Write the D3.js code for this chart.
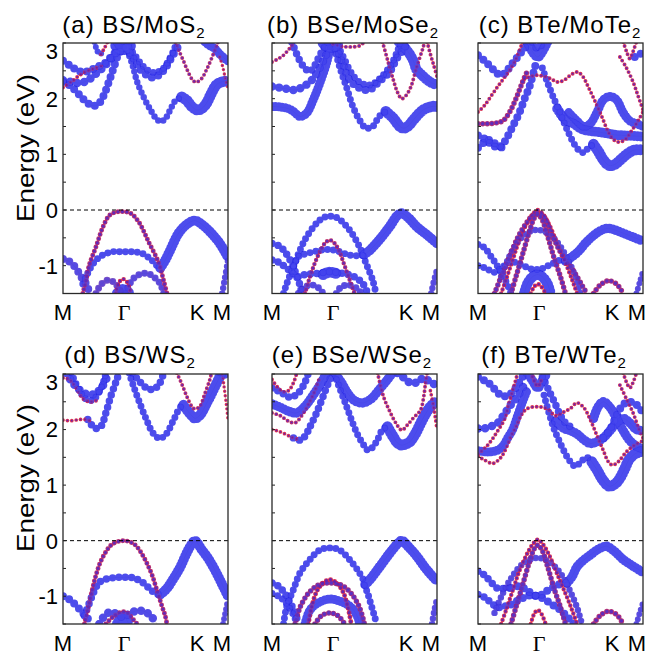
<!DOCTYPE html>
<html><head><meta charset="utf-8">
<script src="https://cdn.jsdelivr.net/npm/d3@7"></script>
<style>body{margin:0;background:#fff}svg{display:block}</style>
</head><body>
<svg id="chart" width="659" height="661"></svg>
<script>
// ---------------- DATA ----------------
const kPoints = [0, 0.364, 0.795, 1];          // M, Γ, K, M along the path (normalised)
const kLabels = ["M", "Γ", "K", "M"];
const yTickLabels = [3, 2, 1, 0, -1];
const yMinorTicks = [-1.5, -1, -0.5, 0, 0.5, 1, 1.5, 2, 2.5, 3];
const titles = [["(a) BS/MoS", "2"], ["(b) BSe/MoSe", "2"], ["(c) BTe/MoTe", "2"],
                ["(d) BS/WS", "2"], ["(e) BSe/WSe", "2"], ["(f) BTe/WTe", "2"]];
// each band: [weight (0..1), B-chalcogen fraction (0 = TMD blue, 1 = red), [[k, E], ...]]
const bandsA = [
 [0.4,0.75,[[0.12,-1.5],[0.14,-1.25],[0.16,-0.98],[0.2,-0.66],[0.24,-0.32],[0.28,-0.1],[0.32,-0.04],[0.364,-0.03],[0.41,-0.06],[0.46,-0.22],[0.52,-0.58],[0.58,-0.95],[0.61,-1.27],[0.63,-1.5]]],
 [0.6,0,[[0.12,-1.33],[0.14,-1.2],[0.17,-1.02],[0.2,-0.9],[0.24,-0.81],[0.3,-0.75],[0.36,-0.75],[0.42,-0.75],[0.48,-0.78],[0.53,-0.88],[0.57,-1.0],[0.59,-1.04]]],
 [0.9,0,[[0.59,-1.04],[0.62,-0.9],[0.65,-0.72],[0.7,-0.42],[0.75,-0.26],[0.8,-0.19],[0.85,-0.28],[0.9,-0.42],[0.95,-0.6],[1.0,-0.85]]],
 [0.7,0.1,[[0,-0.88],[0.04,-0.93],[0.08,-1.05],[0.11,-1.2],[0.135,-1.3],[0.15,-1.4],[0.165,-1.5]]],
 [0.55,0.1,[[0.965,-1.5],[0.98,-1.25],[0.995,-1.0],[1.0,-0.9]]],
 [0.6,0.25,[[0.2,-1.5],[0.23,-1.34],[0.27,-1.26],[0.31,-1.3],[0.34,-1.42],[0.36,-1.5]]],
 [0.35,0.9,[[0.32,-1.5],[0.34,-1.3],[0.364,-1.24],[0.39,-1.3],[0.41,-1.5]]],
 [0.6,0.15,[[0.38,-1.5],[0.4,-1.35],[0.43,-1.22],[0.47,-1.15],[0.51,-1.14],[0.55,-1.2],[0.59,-1.33],[0.61,-1.5]]],
 [1.0,0,[[0.33,-1.5],[0.35,-1.44],[0.364,-1.43],[0.38,-1.44],[0.4,-1.5]]],
 [0.7,0,[[0,2.3],[0.04,2.24],[0.08,2.13],[0.12,2.0],[0.16,1.9],[0.19,1.87],[0.22,1.92],[0.25,2.08],[0.28,2.32],[0.31,2.58],[0.34,2.82],[0.364,2.88]]],
 [0.75,0,[[0,2.33],[0.05,2.3],[0.1,2.28],[0.15,2.33],[0.2,2.45],[0.25,2.58],[0.3,2.75],[0.34,2.88]]],
 [0.3,0.95,[[0,2.2],[0.05,2.3],[0.1,2.42],[0.15,2.5],[0.2,2.55],[0.25,2.6]]],
 [0.7,0,[[0,2.68],[0.04,2.6],[0.08,2.52],[0.12,2.48],[0.16,2.5],[0.2,2.56],[0.25,2.63],[0.3,2.78],[0.34,2.9]]],
 [0.5,0,[[0.19,3.02],[0.205,2.88],[0.22,2.8],[0.235,2.82]]],
 [0.3,0.95,[[0.23,2.8],[0.25,2.9],[0.27,3.02]]],
 [1.0,0,[[0.32,2.95],[0.34,2.9],[0.364,2.88],[0.39,2.9],[0.41,2.95]]],
 [0.9,0,[[0.33,3.02],[0.35,2.94],[0.364,2.93],[0.38,2.94],[0.4,3.02]]],
 [0.55,0,[[0.39,2.86],[0.42,2.62],[0.45,2.3],[0.49,2.02],[0.53,1.8],[0.56,1.66],[0.59,1.59],[0.62,1.64],[0.65,1.8],[0.68,1.96],[0.72,2.03]]],
 [1.0,0,[[0.72,2.03],[0.75,1.97],[0.78,1.86],[0.81,1.8],[0.84,1.82],[0.87,1.92],[0.9,2.1],[0.93,2.25],[0.96,2.3],[1.0,2.32]]],
 [0.7,0,[[0.38,2.92],[0.42,2.76],[0.46,2.56],[0.5,2.44],[0.54,2.38],[0.58,2.42],[0.62,2.55],[0.66,2.75],[0.7,2.95],[0.71,3.02]]],
 [0.6,0,[[0.4,2.92],[0.44,2.76],[0.48,2.6],[0.52,2.5],[0.56,2.47],[0.6,2.52],[0.64,2.68],[0.67,2.86],[0.69,3.02]]],
 [0.3,0.75,[[0.68,3.02],[0.7,2.88],[0.73,2.68],[0.76,2.47],[0.79,2.32],[0.81,2.3],[0.84,2.36],[0.87,2.52],[0.9,2.72],[0.93,2.94],[0.94,3.02]]],
 [0.8,0,[[0.86,3.02],[0.89,2.95],[0.92,2.9],[0.95,2.8],[0.98,2.72],[1.0,2.68]]],
 [0.25,0.95,[[0.95,2.75],[0.97,2.55],[0.985,2.35],[1.0,2.2]]]
];
const bandsB = [
 [0.6,0,[[0.07,-1.5],[0.09,-1.32],[0.13,-1.02],[0.17,-0.72],[0.21,-0.48],[0.27,-0.24],[0.31,-0.14],[0.35,-0.11],[0.4,-0.15],[0.47,-0.36],[0.53,-0.66],[0.57,-0.96],[0.61,-1.26],[0.63,-1.5]]],
 [0.6,0,[[0.13,-1.02],[0.16,-0.84],[0.19,-0.8],[0.27,-0.74],[0.33,-0.71],[0.39,-0.73],[0.47,-0.81],[0.53,-0.82],[0.56,-0.8]]],
 [0.9,0,[[0.56,-0.8],[0.594,-0.72],[0.655,-0.52],[0.715,-0.29],[0.76,-0.1],[0.786,-0.06],[0.83,-0.15],[0.877,-0.3],[0.94,-0.45],[1.0,-0.6]]],
 [0.65,0,[[0,-0.6],[0.04,-0.64],[0.07,-0.72],[0.1,-0.85],[0.13,-1.02],[0.15,-1.2],[0.17,-1.35],[0.18,-1.5]]],
 [0.65,0,[[0,-0.9],[0.04,-0.94],[0.08,-1.02],[0.12,-1.12],[0.15,-1.2],[0.2,-1.16],[0.27,-1.14],[0.35,-1.11],[0.43,-1.14],[0.5,-1.2],[0.55,-1.32],[0.58,-1.5]]],
 [1.0,0,[[0.31,-1.16],[0.34,-1.12],[0.364,-1.12],[0.39,-1.14]]],
 [0.35,0.75,[[0.2,-1.5],[0.23,-1.2],[0.26,-0.95],[0.29,-0.75],[0.32,-0.6],[0.35,-0.54],[0.38,-0.6],[0.41,-0.76],[0.44,-1.0],[0.47,-1.25],[0.5,-1.5]]],
 [0.6,0.1,[[0.16,-1.5],[0.2,-1.38],[0.25,-1.35],[0.29,-1.42],[0.31,-1.5]]],
 [0.6,0.1,[[0.39,-1.5],[0.42,-1.38],[0.47,-1.35],[0.52,-1.42],[0.54,-1.5]]],
 [0.55,0.1,[[0.965,-1.5],[0.98,-1.3],[1.0,-1.08]]],
 [0.3,0.8,[[0,2.66],[0.04,2.72],[0.07,2.78],[0.1,2.88],[0.12,2.95],[0.13,3.02]]],
 [0.65,0,[[0.12,3.02],[0.15,2.8],[0.19,2.58],[0.23,2.49],[0.26,2.6],[0.29,2.78],[0.32,2.93],[0.34,3.02]]],
 [0.75,0,[[0,2.22],[0.04,2.2],[0.08,2.18],[0.12,2.16],[0.15,2.16],[0.19,2.22],[0.23,2.3],[0.27,2.45],[0.3,2.62],[0.33,2.8],[0.35,2.93]]],
 [0.8,0,[[0,1.86],[0.05,1.85],[0.1,1.82],[0.13,1.77],[0.17,1.68],[0.21,1.74],[0.25,1.98],[0.29,2.28],[0.33,2.63],[0.35,2.87]]],
 [1.0,0,[[0.31,3.0],[0.33,2.94],[0.364,2.92],[0.39,2.94],[0.41,3.0]]],
 [0.6,0,[[0.38,2.9],[0.41,2.57],[0.45,2.22],[0.49,1.86],[0.53,1.62],[0.57,1.47],[0.61,1.5],[0.65,1.68],[0.69,1.77]]],
 [1.0,0,[[0.69,1.77],[0.735,1.65],[0.775,1.5],[0.8,1.47],[0.83,1.52],[0.857,1.62],[0.917,1.8],[0.97,1.86],[1.0,1.86]]],
 [0.7,0,[[0.39,2.92],[0.43,2.62],[0.47,2.34],[0.53,2.19],[0.59,2.16],[0.65,2.31],[0.715,2.49],[0.755,2.72],[0.8,2.9],[0.82,3.02]]],
 [0.6,0,[[0.4,2.95],[0.44,2.7],[0.49,2.42],[0.54,2.28],[0.6,2.25],[0.66,2.38],[0.72,2.6],[0.76,2.85],[0.78,3.02]]],
 [0.3,0.8,[[0.67,3.02],[0.7,2.7],[0.735,2.34],[0.76,2.12],[0.786,2.0],[0.81,2.05],[0.84,2.2],[0.877,2.57],[0.917,2.93],[0.925,3.02]]],
 [0.95,0,[[0.77,3.02],[0.8,2.93],[0.83,2.82],[0.857,2.68],[0.877,2.52],[0.91,2.42],[0.94,2.34],[0.97,2.28],[1.0,2.25]]],
 [0.3,0.85,[[0.94,3.02],[0.96,2.8],[0.98,2.6],[1.0,2.4]]],
 [0.3,0.8,[[0.37,2.98],[0.42,2.94],[0.47,2.93],[0.53,2.95],[0.56,3.02]]]
];
const bandsC = [
 [0.35,0.9,[[0.14,-1.5],[0.17,-1.25],[0.21,-0.9],[0.25,-0.55],[0.3,-0.22],[0.335,-0.06],[0.362,0.0],[0.39,-0.06],[0.43,-0.25],[0.48,-0.6],[0.53,-0.95],[0.57,-1.25],[0.6,-1.5]]],
 [0.45,0.65,[[0.2,-1.5],[0.23,-1.2],[0.27,-0.8],[0.31,-0.4],[0.34,-0.15],[0.362,-0.08],[0.385,-0.15],[0.42,-0.45],[0.46,-0.85],[0.5,-1.2],[0.53,-1.5]]],
 [0.45,0.6,[[0.1,-1.5],[0.14,-1.2],[0.19,-0.85],[0.24,-0.5],[0.29,-0.25],[0.33,-0.1],[0.362,-0.05],[0.4,-0.12],[0.46,-0.52],[0.52,-0.86],[0.58,-1.1],[0.63,-1.35],[0.66,-1.5]]],
 [0.55,0.1,[[0.14,-1.2],[0.18,-0.9],[0.23,-0.62],[0.28,-0.45],[0.33,-0.37],[0.362,-0.36],[0.4,-0.38],[0.45,-0.48],[0.5,-0.66],[0.55,-0.92],[0.59,-1.2],[0.62,-1.5]]],
 [0.85,0,[[0.53,-0.92],[0.57,-0.84],[0.61,-0.74],[0.65,-0.6],[0.7,-0.46],[0.75,-0.36],[0.79,-0.33],[0.84,-0.37],[0.9,-0.44],[0.95,-0.5],[1.0,-0.56]]],
 [0.6,0,[[0.0,-1.0],[0.05,-1.05],[0.1,-1.12],[0.15,-1.02],[0.2,-0.93],[0.26,-0.98],[0.32,-1.06],[0.38,-1.06],[0.44,-0.98],[0.5,-0.9],[0.53,-0.92]]],
 [0.6,0,[[0,-0.62],[0.04,-0.68],[0.08,-0.84],[0.12,-1.02],[0.15,-1.18],[0.18,-1.35],[0.2,-1.5]]],
 [0.95,0,[[0.28,-1.5],[0.3,-1.32],[0.33,-1.2],[0.362,-1.16],[0.39,-1.2],[0.42,-1.32],[0.44,-1.5]]],
 [0.35,0.95,[[0.32,-1.5],[0.34,-1.38],[0.362,-1.33],[0.385,-1.38],[0.41,-1.5]]],
 [0.45,0.7,[[0.7,-1.5],[0.74,-1.35],[0.79,-1.27],[0.84,-1.33],[0.88,-1.5]]],
 [0.5,0.1,[[0.96,-1.5],[0.98,-1.3],[1.0,-1.1]]],
 [0.7,0,[[0,1.12],[0.04,1.22],[0.07,1.26],[0.1,1.2],[0.13,1.14],[0.16,1.22],[0.19,1.38],[0.22,1.56],[0.25,1.74],[0.28,1.98],[0.31,2.2],[0.33,2.4],[0.35,2.62]]],
 [0.7,0,[[0,1.34],[0.04,1.28],[0.08,1.18],[0.12,1.12],[0.15,1.13]]],
 [0.6,0,[[0.39,2.55],[0.42,2.3],[0.46,2.0],[0.49,1.8],[0.52,1.58],[0.55,1.38],[0.58,1.2],[0.61,1.08],[0.64,1.03],[0.67,1.12],[0.7,1.18]]],
 [1.0,0,[[0.7,1.18],[0.73,1.05],[0.76,0.9],[0.795,0.8],[0.83,0.82],[0.87,0.92],[0.91,1.02],[0.95,1.08],[1.0,1.08]]],
 [0.9,0,[[0.3,3.02],[0.33,2.85],[0.362,2.75],[0.39,2.85],[0.42,3.02]]],
 [0.7,0,[[0.33,3.02],[0.35,2.93],[0.362,2.9],[0.375,2.93],[0.39,3.02]]],
 [0.7,0,[[0,2.78],[0.04,2.68],[0.08,2.56],[0.11,2.47],[0.13,2.43],[0.16,2.45],[0.2,2.6],[0.24,2.75],[0.28,2.9],[0.31,3.0]]],
 [0.3,0.9,[[0.28,2.35],[0.32,2.4],[0.362,2.42],[0.4,2.4],[0.44,2.36],[0.48,2.3],[0.52,2.33],[0.56,2.42],[0.6,2.48],[0.63,2.42],[0.67,2.2],[0.71,1.95],[0.75,1.68],[0.79,1.4],[0.82,1.27],[0.85,1.22],[0.89,1.26],[0.93,1.42],[0.97,1.6],[1.0,1.76]]],
 [0.3,0.9,[[0,1.76],[0.04,1.88],[0.08,2.05],[0.12,2.22],[0.16,2.38],[0.2,2.55],[0.24,2.78],[0.27,3.02]]],
 [0.45,0.7,[[0,1.55],[0.05,1.55],[0.1,1.56],[0.15,1.6],[0.19,1.75],[0.23,2.0],[0.27,2.3],[0.3,2.5]]],
 [0.8,0,[[0.55,1.75],[0.6,1.6],[0.64,1.5],[0.68,1.55],[0.72,1.75],[0.76,1.98],[0.8,2.04],[0.84,1.98],[0.88,1.75],[0.92,1.6],[0.96,1.55],[1.0,1.5]]],
 [0.9,0,[[0.48,1.82],[0.53,1.62],[0.58,1.55],[0.63,1.45],[0.68,1.42],[0.73,1.4],[0.78,1.38],[0.83,1.35],[0.88,1.34],[0.94,1.33],[1.0,1.32]]],
 [0.3,0.85,[[0.88,3.02],[0.9,2.85],[0.92,2.72],[0.94,2.85],[0.96,3.02]]],
 [0.3,0.85,[[0.86,2.75],[0.9,2.55],[0.94,2.3],[0.97,2.05],[1.0,1.8]]],
 [0.7,0,[[0.95,2.75],[0.98,2.8],[1.0,2.82]]]
];
const bandsD = [
 [0.4,0.75,[[0.13,-1.5],[0.14,-1.36],[0.155,-1.18],[0.18,-0.85],[0.2,-0.62],[0.225,-0.4],[0.26,-0.2],[0.3,-0.06],[0.366,0.0],[0.43,-0.06],[0.47,-0.2],[0.507,-0.4],[0.54,-0.62],[0.568,-0.88],[0.6,-1.18],[0.62,-1.36],[0.63,-1.5]]],
 [0.65,0,[[0.13,-1.35],[0.16,-1.12],[0.19,-0.9],[0.224,-0.74],[0.3,-0.67],[0.36,-0.66],[0.426,-0.67],[0.487,-0.76],[0.53,-0.88],[0.57,-0.96],[0.59,-0.97]]],
 [0.9,0,[[0.59,-0.97],[0.63,-0.86],[0.67,-0.68],[0.71,-0.48],[0.75,-0.22],[0.78,-0.06],[0.8,0.0],[0.84,-0.16],[0.88,-0.32],[0.93,-0.58],[0.97,-0.82],[1.0,-1.0]]],
 [0.7,0,[[0,-1.0],[0.04,-1.06],[0.08,-1.17],[0.12,-1.3],[0.15,-1.4],[0.17,-1.5]]],
 [0.5,0.1,[[0.97,-1.5],[0.985,-1.28],[1.0,-1.06]]],
 [0.75,0.05,[[0.22,-1.5],[0.25,-1.36],[0.29,-1.28],[0.33,-1.33],[0.366,-1.38],[0.4,-1.32],[0.45,-1.26],[0.5,-1.28],[0.54,-1.38],[0.57,-1.5]]],
 [1.0,0,[[0.33,-1.5],[0.35,-1.4],[0.366,-1.36],[0.38,-1.4],[0.4,-1.5]]],
 [0.4,0.7,[[0.26,-1.5],[0.3,-1.38],[0.34,-1.3],[0.366,-1.28],[0.39,-1.3],[0.42,-1.4],[0.45,-1.5]]],
 [0.28,0.95,[[0,2.17],[0.05,2.16],[0.1,2.18],[0.14,2.18],[0.17,2.15]]],
 [0.65,0,[[0.15,2.18],[0.18,2.06],[0.2,2.02],[0.23,2.06],[0.26,2.3],[0.29,2.6],[0.32,2.85],[0.34,3.02]]],
 [0.6,0,[[0.4,3.02],[0.43,2.76],[0.466,2.47],[0.507,2.17],[0.547,1.93],[0.588,1.84],[0.628,1.93],[0.67,2.17],[0.71,2.4],[0.73,2.44]]],
 [0.95,0,[[0.73,2.44],[0.76,2.32],[0.79,2.22],[0.8,2.2],[0.83,2.26],[0.87,2.47],[0.91,2.71],[0.95,2.95],[0.96,3.02]]],
 [0.75,0,[[0.02,3.02],[0.05,2.88],[0.09,2.74],[0.14,2.64],[0.19,2.64],[0.23,2.74],[0.26,2.9],[0.28,3.02]]],
 [0.3,0.85,[[0,2.93],[0.04,2.9],[0.08,2.75],[0.12,2.56],[0.16,2.5],[0.2,2.52]]],
 [0.6,0,[[0.05,3.02],[0.1,2.7],[0.14,2.55],[0.18,2.53],[0.22,2.68],[0.25,2.9],[0.26,3.02]]],
 [0.65,0,[[0.42,3.02],[0.46,2.88],[0.5,2.76],[0.54,2.72],[0.58,2.8],[0.61,3.02]]],
 [0.3,0.8,[[0.69,3.02],[0.72,2.82],[0.75,2.6],[0.78,2.42],[0.8,2.37],[0.83,2.42],[0.86,2.65],[0.89,2.9],[0.9,3.02]]],
 [0.25,0.95,[[0.965,3.0],[0.975,2.8],[0.99,2.45],[1.0,2.18]]],
 [0.6,0,[[0.95,3.02],[0.98,2.98],[1.0,2.98]]]
];
const bandsE = [
 [0.6,0,[[0.07,-1.5],[0.09,-1.18],[0.13,-0.88],[0.17,-0.58],[0.23,-0.34],[0.29,-0.17],[0.35,-0.13],[0.41,-0.17],[0.47,-0.34],[0.53,-0.58],[0.565,-0.77]]],
 [0.9,0,[[0.565,-0.79],[0.594,-0.7],[0.655,-0.46],[0.715,-0.22],[0.76,-0.06],[0.786,0.0],[0.83,-0.12],[0.877,-0.28],[0.937,-0.52],[1.0,-0.73]]],
 [0.6,0,[[0.56,-0.8],[0.58,-0.95],[0.6,-1.15],[0.62,-1.35],[0.635,-1.5]]],
 [0.65,0,[[0,-0.76],[0.04,-0.82],[0.08,-0.96],[0.11,-1.12],[0.14,-1.3],[0.16,-1.5]]],
 [0.6,0,[[0,-0.95],[0.04,-1.0],[0.08,-1.1],[0.12,-1.28],[0.14,-1.4],[0.15,-1.5]]],
 [0.8,0,[[0.2,-1.5],[0.23,-1.25],[0.28,-1.12],[0.35,-1.05],[0.42,-1.1],[0.48,-1.2],[0.52,-1.38],[0.53,-1.5]]],
 [0.4,0.9,[[0.22,-1.5],[0.24,-1.2],[0.27,-0.92],[0.31,-0.76],[0.35,-0.7],[0.39,-0.76],[0.43,-0.92],[0.46,-1.2],[0.48,-1.5]]],
 [0.45,0.6,[[0.14,-1.5],[0.17,-1.2],[0.22,-0.95],[0.28,-0.8],[0.35,-0.76],[0.42,-0.8],[0.48,-0.95],[0.53,-1.2],[0.56,-1.5]]],
 [0.45,0.6,[[0.26,-1.5],[0.3,-1.35],[0.35,-1.3],[0.4,-1.35],[0.44,-1.5]]],
 [0.55,0.1,[[0.97,-1.5],[0.985,-1.25],[1.0,-1.06]]],
 [0.28,0.95,[[0,2.0],[0.04,1.97],[0.08,1.92],[0.12,1.86],[0.15,1.83]]],
 [0.65,0,[[0.13,1.85],[0.17,1.81],[0.2,1.88],[0.23,2.05],[0.27,2.3],[0.31,2.6],[0.35,2.9],[0.37,3.02]]],
 [0.6,0,[[0.39,2.9],[0.43,2.59],[0.46,2.35],[0.49,2.11],[0.52,1.9],[0.55,1.75],[0.58,1.63],[0.61,1.68],[0.64,1.82],[0.67,2.0],[0.7,2.05]]],
 [1.0,0,[[0.7,2.05],[0.735,1.87],[0.76,1.76],[0.786,1.72],[0.81,1.74],[0.836,1.78],[0.87,1.93],[0.9,2.11],[0.93,2.28],[0.96,2.41],[1.0,2.52]]],
 [0.85,0,[[0,2.46],[0.05,2.4],[0.1,2.33],[0.15,2.3],[0.2,2.42],[0.25,2.62],[0.3,2.85],[0.33,3.02]]],
 [0.3,0.8,[[0,2.3],[0.05,2.25],[0.1,2.15],[0.14,2.12],[0.18,2.25],[0.22,2.45],[0.26,2.7],[0.29,2.95]]],
 [0.3,0.9,[[0,2.9],[0.04,2.74],[0.07,2.68],[0.1,2.7],[0.13,2.84],[0.15,3.02]]],
 [0.65,0,[[0,2.75],[0.06,2.66],[0.11,2.58],[0.16,2.66],[0.2,2.85],[0.22,3.02]]],
 [0.85,0,[[0.38,3.02],[0.42,2.85],[0.46,2.65],[0.5,2.52],[0.55,2.48],[0.6,2.55],[0.65,2.72],[0.7,2.9],[0.73,3.02]]],
 [0.3,0.85,[[0.64,3.02],[0.675,2.6],[0.71,2.35],[0.75,2.12],[0.786,1.99],[0.82,2.08],[0.86,2.22],[0.9,2.35],[0.92,2.6],[0.93,2.83],[0.94,3.02]]],
 [0.75,0,[[0.76,3.02],[0.8,2.93],[0.84,2.84],[0.88,2.85],[0.92,2.93],[0.96,2.85],[1.0,2.8]]],
 [0.28,0.95,[[0.96,2.7],[0.98,2.4],[1.0,2.0]]]
];
const bandsF = [
 [0.35,0.9,[[0.14,-1.5],[0.17,-1.25],[0.21,-0.9],[0.25,-0.55],[0.3,-0.22],[0.335,-0.05],[0.362,0.02],[0.39,-0.05],[0.43,-0.25],[0.48,-0.6],[0.53,-0.95],[0.57,-1.25],[0.6,-1.5]]],
 [0.45,0.6,[[0.2,-1.5],[0.23,-1.2],[0.27,-0.8],[0.31,-0.4],[0.34,-0.15],[0.362,-0.08],[0.385,-0.15],[0.42,-0.45],[0.46,-0.85],[0.5,-1.2],[0.53,-1.5]]],
 [0.55,0.1,[[0.1,-1.3],[0.15,-0.95],[0.2,-0.68],[0.25,-0.48],[0.3,-0.36],[0.362,-0.31],[0.42,-0.36],[0.47,-0.48],[0.52,-0.68],[0.56,-0.92],[0.6,-1.2],[0.63,-1.5]]],
 [0.85,0,[[0.54,-0.76],[0.57,-0.65],[0.6,-0.47],[0.64,-0.35],[0.68,-0.26],[0.72,-0.17],[0.76,-0.11],[0.78,-0.1],[0.83,-0.2],[0.88,-0.34],[0.94,-0.46],[1.0,-0.57]]],
 [0.7,0,[[0.2,-0.85],[0.25,-0.82],[0.3,-0.9],[0.362,-1.0],[0.42,-0.9],[0.48,-0.8],[0.54,-0.76]]],
 [0.7,0,[[0.2,-1.15],[0.26,-1.05],[0.32,-0.98],[0.362,-1.0],[0.4,-1.05],[0.45,-1.15],[0.5,-1.25],[0.55,-1.4],[0.58,-1.5]]],
 [0.65,0,[[0,-0.55],[0.04,-0.62],[0.08,-0.75],[0.12,-0.86],[0.16,-0.86],[0.2,-0.85]]],
 [0.65,0,[[0,-0.97],[0.04,-1.02],[0.08,-1.12],[0.12,-1.2],[0.16,-1.18],[0.2,-1.15]]],
 [0.35,0.95,[[0.32,-1.5],[0.34,-1.32],[0.362,-1.25],[0.385,-1.32],[0.41,-1.5]]],
 [0.45,0.7,[[0.7,-1.5],[0.74,-1.35],[0.79,-1.27],[0.84,-1.33],[0.88,-1.5]]],
 [0.5,0.1,[[0.96,-1.5],[0.98,-1.3],[1.0,-1.12]]],
 [0.8,0,[[0,1.62],[0.04,1.6],[0.08,1.6],[0.12,1.63],[0.15,1.7],[0.18,1.85],[0.21,2.0],[0.24,2.25],[0.27,2.5],[0.3,2.72]]],
 [0.6,0,[[0.4,2.62],[0.43,2.3],[0.46,2.02],[0.49,1.81],[0.52,1.62],[0.55,1.46],[0.59,1.34],[0.63,1.44],[0.66,1.5],[0.69,1.42]]],
 [1.0,0,[[0.69,1.42],[0.72,1.28],[0.755,1.1],[0.795,0.98],[0.83,1.02],[0.855,1.1],[0.89,1.3],[0.915,1.46],[0.95,1.56],[1.0,1.62]]],
 [0.3,0.9,[[0,1.52],[0.04,1.45],[0.09,1.39],[0.13,1.47],[0.16,1.6],[0.2,1.88],[0.23,2.05],[0.26,2.25],[0.3,2.38],[0.362,2.41],[0.42,2.37],[0.47,2.25],[0.51,2.3],[0.56,2.38],[0.6,2.48],[0.64,2.4],[0.68,2.18],[0.72,1.9],[0.76,1.62],[0.79,1.42],[0.815,1.36],[0.85,1.42],[0.9,1.6],[0.95,1.72],[1.0,1.8]]],
 [0.85,0,[[0.3,3.02],[0.33,2.88],[0.362,2.75],[0.39,2.88],[0.42,3.02]]],
 [0.35,0.9,[[0.33,2.95],[0.35,2.82],[0.362,2.78],[0.375,2.82],[0.39,2.95]]],
 [0.7,0,[[0,2.95],[0.04,2.88],[0.08,2.8],[0.12,2.66],[0.16,2.6],[0.2,2.65],[0.24,2.8],[0.27,2.95],[0.29,3.02]]],
 [0.75,0,[[0,2.02],[0.04,2.02],[0.08,2.06],[0.12,2.12],[0.16,2.28],[0.2,2.45],[0.24,2.6],[0.28,2.8]]],
 [0.3,0.9,[[0,1.56],[0.04,1.66],[0.08,1.8],[0.12,1.98],[0.16,2.18],[0.19,2.5],[0.22,2.8],[0.24,3.02]]],
 [0.85,0,[[0.47,2.15],[0.52,2.02],[0.56,1.98],[0.6,1.92],[0.64,1.82],[0.68,1.75],[0.72,1.78],[0.76,1.85],[0.8,1.98],[0.84,2.12],[0.88,2.2],[0.92,2.12],[0.96,2.0],[1.0,1.98]]],
 [0.85,0,[[0.7,2.2],[0.73,2.42],[0.76,2.5],[0.8,2.4],[0.84,2.2],[0.88,1.98],[0.92,1.8],[0.96,1.7],[1.0,1.65]]],
 [0.7,0,[[0.76,1.85],[0.8,2.0],[0.84,2.25],[0.88,2.45],[0.92,2.5],[0.96,2.45],[1.0,2.3]]],
 [0.3,0.85,[[0.88,3.02],[0.9,2.85],[0.92,2.75],[0.94,2.85],[0.96,3.02]]],
 [0.3,0.85,[[0.86,2.8],[0.9,2.55],[0.94,2.3],[0.97,2.05],[1.0,1.85]]],
 [0.65,0,[[0.39,2.95],[0.43,2.7],[0.47,2.45],[0.5,2.25],[0.53,2.12],[0.56,2.05]]]
];

// ---------------- LAYOUT ----------------
const svg = d3.select("#chart");
const W = 165;
const lefts = [63, 272, 478];
const rows = [{top: 43, bottom: 293.5, titleY: 33, labelY: 148}, {top: 374, bottom: 624, titleY: 363, labelY: 478}];
const titleX = [134, 353, 560, 130, 352, 554];
const allBands = [bandsA, bandsB, bandsC, bandsD, bandsE, bandsF];
const sans = "Liberation Sans, Arial, sans-serif";

const sizeScale = d3.scaleLinear().domain([0, 1]).range([0.9, 11]);
const outerCol = d3.interpolateRgb("rgb(30,30,228)", "rgb(235,35,55)");
const innerCol = d3.interpolateRgb("rgb(75,75,238)", "rgb(100,30,170)");

allBands.forEach((bands, i) => {
  const col = i % 3, row = Math.floor(i / 3);
  const L = lefts[col], R = rows[row];
  const x = d3.scaleLinear().domain([0, 1]).range([L, L + W]);
  const y = d3.scaleLinear().domain([-1.5, 3]).range([R.bottom, R.top]);
  const g = svg.append("g");
  const clipId = "clip" + i;
  svg.append("clipPath").attr("id", clipId).append("rect")
    .attr("x", L).attr("y", R.top).attr("width", W).attr("height", R.bottom - R.top);
  const plot = g.append("g").attr("clip-path", `url(#${clipId})`);
  const line = d3.line().x(d => x(d[0])).y(d => y(d[1])).curve(d3.curveCatmullRom.alpha(0.5));

  // thin band lines
  plot.selectAll("path.thin").data(bands).join("path").attr("class", "thin")
    .attr("d", d => line(d[2])).attr("fill", "none")
    .attr("stroke", "#999").attr("stroke-width", 0.5).attr("stroke-opacity", 0.7);

  const sorted = bands.slice().sort((a, b) => b[0] - a[0]);
  const sp = d => { const s = sizeScale(d[0]); return s >= 8.5 ? 3.3 : s >= 5 ? s * 0.85 : 4.4; };
  plot.selectAll("path.out").data(sorted).join("path").attr("class", "out")
    .attr("d", d => line(d[2])).attr("fill", "none")
    .attr("stroke", d => outerCol(d[1])).attr("stroke-opacity", d => d[1] > 0.5 ? 0.92 : 0.78)
    .attr("stroke-width", d => sizeScale(d[0]))
    .attr("stroke-linecap", "round").attr("stroke-dasharray", d => `0 ${sp(d)}`);
  plot.selectAll("path.in").data(sorted).join("path").attr("class", "in")
    .attr("d", d => line(d[2])).attr("fill", "none")
    .attr("stroke", d => innerCol(d[1])).attr("stroke-opacity", d => d[1] > 0.5 ? 0.95 : 0.55)
    .attr("stroke-width", d => Math.max(sizeScale(d[0]) - 1.8, 1.2))
    .attr("stroke-linecap", "round").attr("stroke-dasharray", d => `0 ${sp(d)}`);

  // zero line
  g.append("line").attr("x1", x(0)).attr("x2", x(1)).attr("y1", y(0)).attr("y2", y(0))
    .attr("stroke", "#000").attr("stroke-width", 1).attr("stroke-dasharray", "4,3");

  // minor ticks (inside)
  g.selectAll("line.tk").data(yMinorTicks).join("line").attr("class", "tk")
    .attr("x1", L).attr("x2", L + 3).attr("y1", d => y(d)).attr("y2", d => y(d))
    .attr("stroke", "#222").attr("stroke-width", 1);

  // frame
  g.append("rect").attr("x", L).attr("y", R.top).attr("width", W).attr("height", R.bottom - R.top)
    .attr("fill", "none").attr("stroke", "#2a2a2a").attr("stroke-width", 1.3);

  // y tick labels only on the first column
  if (col === 0) {
    g.selectAll("text.yl").data(yTickLabels).join("text").attr("class", "yl")
      .attr("x", L - 5).attr("y", d => Math.max(y(d), R.top + 8)).attr("dy", "0.36em")
      .attr("text-anchor", "end").attr("font-family", sans)
      .attr("font-size", 22).text(d => d);
    g.append("text").attr("transform", `translate(34,${R.labelY}) rotate(-90)`)
      .attr("text-anchor", "middle").attr("font-family", sans)
      .attr("font-size", 24).attr("textLength", 148).attr("lengthAdjust", "spacingAndGlyphs")
      .text("Energy (eV)");
  }

  // x tick labels
  const lx = [x(kPoints[0]), x(kPoints[1]) + 1, x(kPoints[2]) + 3, x(kPoints[3]) - 6];
  kLabels.forEach((lab, j) => {
    g.append("text").attr("x", lx[j]).attr("y", R.bottom + 19).attr("dy", "0.36em")
      .attr("text-anchor", "middle")
      .attr("font-family", lab === "Γ" ? "Liberation Serif, Times New Roman, serif" : sans)
      .attr("font-size", 22).text(lab);
  });

  // title
  const t = g.append("text").attr("x", titleX[i]).attr("y", R.titleY).attr("text-anchor", "middle")
    .attr("font-family", sans).attr("font-size", 24).attr("letter-spacing", 1);
  t.append("tspan").text(titles[i][0]);
  t.append("tspan").attr("font-size", 15).attr("dy", 5).text(titles[i][1]);
});
</script>
</body></html>
